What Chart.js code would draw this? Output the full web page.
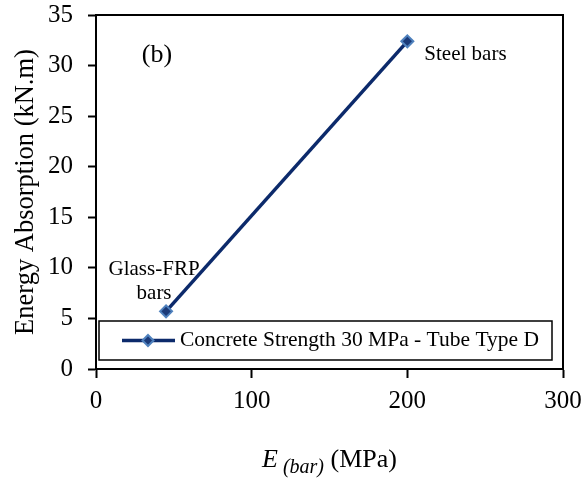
<!DOCTYPE html>
<html><head><meta charset="utf-8">
<script src="https://cdn.jsdelivr.net/npm/chart.js@4"></script>
<style>html,body{margin:0;padding:0;background:#fff}#wrap{width:584px;height:478px}</style>
</head><body><div id="wrap"><canvas id="c" width="584" height="478"></canvas></div>
<script>
// ---- data ----
const barModulus = [45, 200];
const energyAbsorption = [5.7, 32.4];
const pointLabels = [['Glass-FRP', 'bars'], ['Steel bars']];
const seriesName = 'Concrete Strength 30 MPa - Tube Type D';
const xTickValues = [0, 100, 200, 300];
const yTickValues = [0, 5, 10, 15, 20, 25, 30, 35];
const panelLabel = '(b)';
const yTitle = 'Energy Absorption (kN.m)';

const FONT = "'Liberation Serif', 'Times New Roman', serif";
const LINE = '#0c2a6b';
const MARK_FILL = '#1b3a78';
const MARK_EDGE = '#4f81bd';

const points = barModulus.map((x, i) => ({x: x, y: energyAbsorption[i]}));

const overlay = {
  id: 'overlay',
  afterDraw(chart) {
    const {ctx, chartArea: a, scales} = chart;
    const xs = scales.x, ys = scales.y;
    ctx.save();
    // frame
    ctx.strokeStyle = '#000';
    ctx.lineWidth = 2;
    ctx.strokeRect(a.left, a.top, a.right - a.left, a.bottom - a.top);

    // point annotations
    ctx.fillStyle = '#000';
    ctx.font = '21px ' + FONT;
    ctx.textBaseline = 'middle';
    const gx = xs.getPixelForValue(barModulus[0]), gy = ys.getPixelForValue(energyAbsorption[0]);
    ctx.textAlign = 'center';
    ctx.fillText(pointLabels[0][0], gx - 12, gy - 42);
    ctx.fillText(pointLabels[0][1], gx - 12, gy - 18);
    const sx = xs.getPixelForValue(barModulus[1]), sy = ys.getPixelForValue(energyAbsorption[1]);
    ctx.textAlign = 'left';
    ctx.fillText(pointLabels[1][0], sx + 17, sy + 13);

    // panel label
    ctx.font = '26px ' + FONT;
    ctx.textAlign = 'center';
    ctx.fillText(panelLabel, a.left + 61, a.top + 40);

    // legend box
    const lx0 = a.left + 3, lx1 = a.right - 11, ly0 = a.bottom - 48, ly1 = a.bottom - 9;
    ctx.fillStyle = '#fff';
    ctx.fillRect(lx0, ly0, lx1 - lx0, ly1 - ly0);
    ctx.lineWidth = 1.5;
    ctx.strokeStyle = '#000';
    ctx.strokeRect(lx0, ly0, lx1 - lx0, ly1 - ly0);
    const my = (ly0 + ly1) / 2;
    ctx.strokeStyle = LINE;
    ctx.lineWidth = 3.5;
    ctx.beginPath();
    ctx.moveTo(lx0 + 23, my);
    ctx.lineTo(lx0 + 76, my);
    ctx.stroke();
    ctx.fillStyle = MARK_FILL; ctx.strokeStyle = MARK_EDGE; ctx.lineWidth = 2;
    ctx.beginPath();
    ctx.moveTo(lx0 + 49, my - 5.5); ctx.lineTo(lx0 + 54.5, my); ctx.lineTo(lx0 + 49, my + 5.5); ctx.lineTo(lx0 + 43.5, my); ctx.closePath();
    ctx.fill(); ctx.stroke();
    ctx.fillStyle = '#000';
    ctx.font = '21.5px ' + FONT;
    ctx.textAlign = 'left';
    ctx.textBaseline = 'middle';
    ctx.fillText(seriesName, lx0 + 81, my);

    // x-axis title: E (bar) (MPa)
    const cx = (a.left + a.right) / 2;
    const base = 467;
    ctx.textBaseline = 'alphabetic';
    ctx.font = 'italic 26px ' + FONT;
    const wE = ctx.measureText('E').width;
    ctx.font = 'italic 20px ' + FONT;
    const wSub = ctx.measureText(' (bar)').width;
    ctx.font = '26px ' + FONT;
    const wU = ctx.measureText(' (MPa)').width;
    let x0 = cx - (wE + wSub + wU) / 2;
    ctx.font = 'italic 26px ' + FONT;
    ctx.fillText('E', x0, base);
    ctx.font = 'italic 20px ' + FONT;
    ctx.fillText(' (bar)', x0 + wE, base + 6);
    ctx.font = '26px ' + FONT;
    ctx.fillText(' (MPa)', x0 + wE + wSub, base);
    ctx.restore();
  }
};

new Chart(document.getElementById('c'), {
  type: 'scatter',
  data: {
    datasets: [{
      label: seriesName,
      data: points,
      showLine: true,
      borderColor: LINE,
      borderWidth: 3.5,
      pointStyle: 'rectRot',
      pointRadius: 6,
      pointBackgroundColor: MARK_FILL,
      pointBorderColor: MARK_EDGE,
      pointBorderWidth: 2,
      pointHoverRadius: 6
    }]
  },
  options: {
    responsive: false,
    animation: false,
    devicePixelRatio: 1,
    layout: {padding: {top: 15, right: 21, left: 0, bottom: 0}},
    plugins: {legend: {display: false}, tooltip: {enabled: false}},
    scales: {
      x: {
        type: 'linear', min: 0, max: 300,
        afterBuildTicks: s => { s.ticks = xTickValues.map(v => ({value: v})); },
        afterFit: s => { s.height = 109; s.paddingLeft = 0; s.paddingRight = 0; },
        grid: {display: true, drawOnChartArea: false, drawTicks: true, tickLength: 9, tickWidth: 2, tickColor: '#000'},
        border: {display: true, color: '#000', width: 2},
        ticks: {color: '#000', padding: 8, maxRotation: 0, font: {family: FONT, size: 25}},
        title: {display: false}
      },
      y: {
        type: 'linear', min: 0, max: 35,
        afterBuildTicks: s => { s.ticks = yTickValues.map(v => ({value: v})); },
        afterFit: s => { s.width = 96; s.paddingTop = 0; s.paddingBottom = 0; },
        grid: {display: true, drawOnChartArea: false, drawTicks: true, tickLength: 8, tickWidth: 2, tickColor: '#000'},
        border: {display: true, color: '#000', width: 2},
        ticks: {color: '#000', padding: 15, font: {family: FONT, size: 25}},
        title: {display: true, text: yTitle, color: '#000', font: {family: FONT, size: 26.5}, padding: {top: 10, bottom: 0}}
      }
    }
  },
  plugins: [overlay]
});
</script></body></html>
